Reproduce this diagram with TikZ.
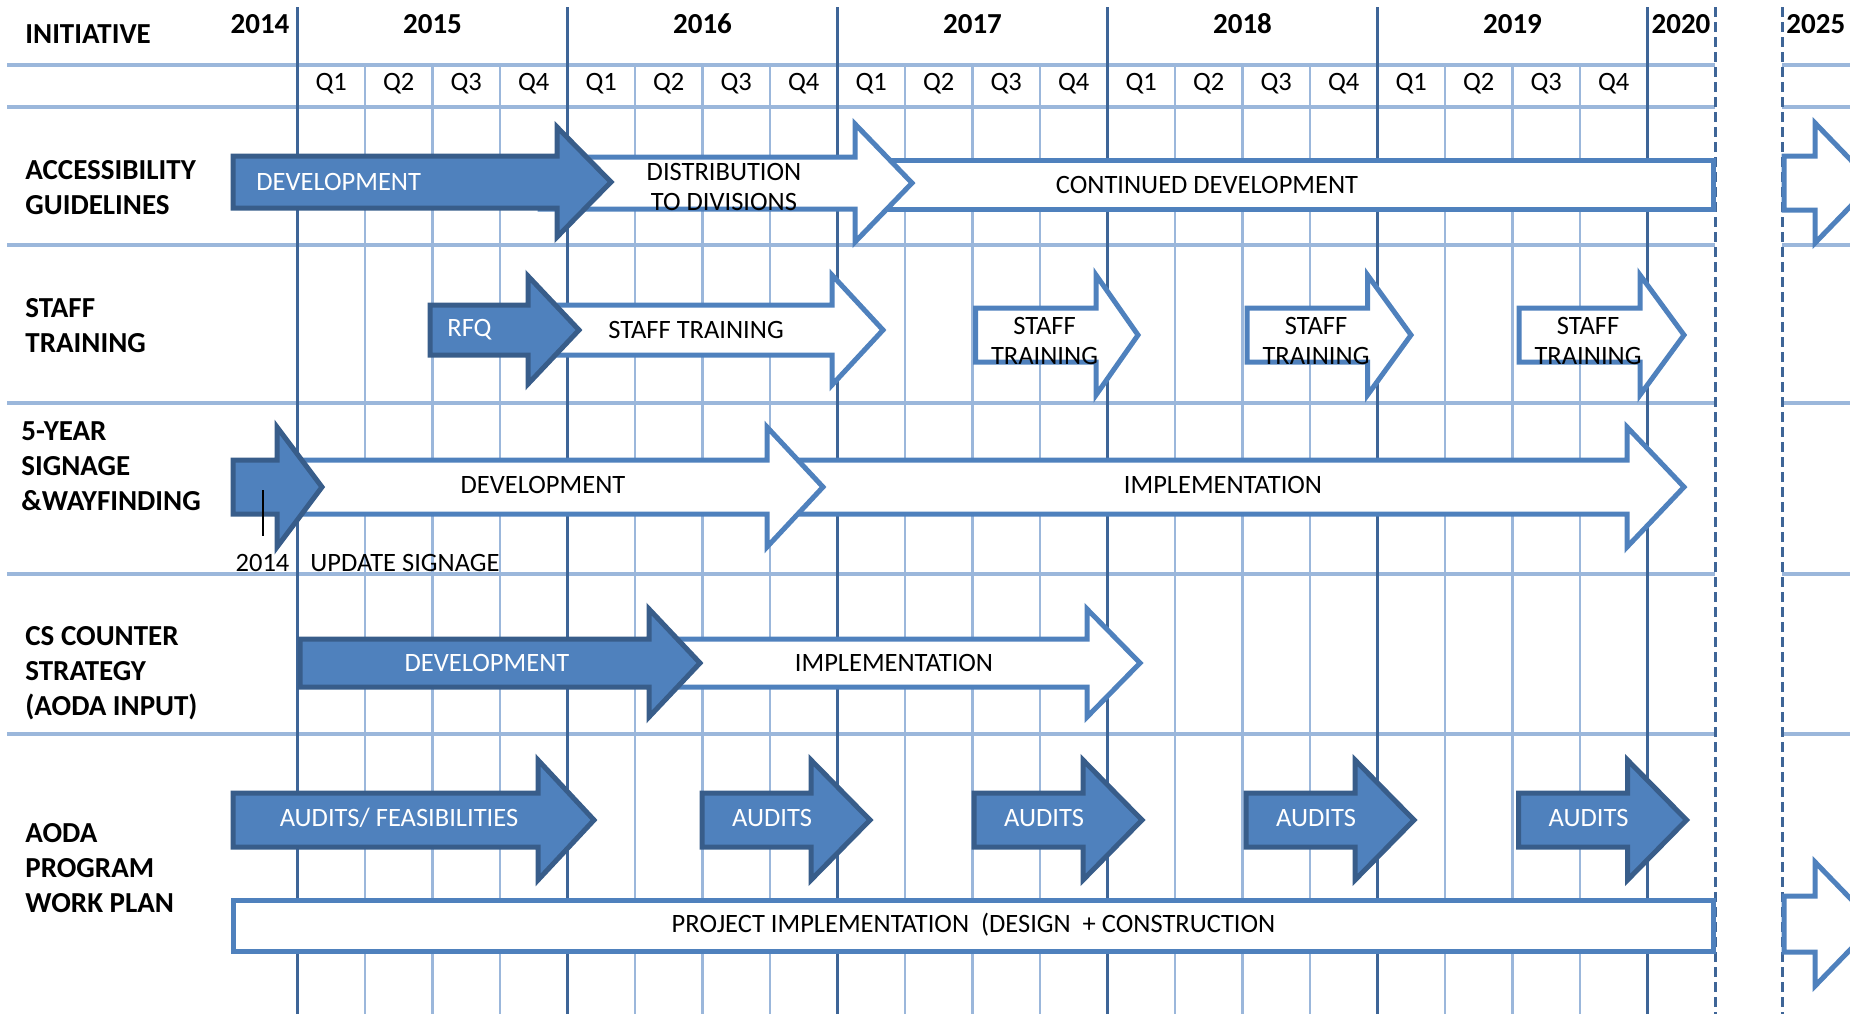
\documentclass[tikz,border=0pt]{standalone}
\usepackage{fontspec}
\setmainfont{Carlito}
\definecolor{barblue}{HTML}{4F81BD}
\definecolor{bardark}{HTML}{385D8A}
\definecolor{gridlight}{HTML}{9BB7DB}
\definecolor{griddark}{HTML}{3E6597}
\tikzset{
	darkarrow/.style={fill=barblue,draw=bardark,line width=2.5pt},
	whitearrow/.style={fill=white,draw=barblue,line width=2.5pt},
	lbl/.style={font=\fontsize{14.5}{17.5}\selectfont\bfseries,align=left,anchor=west,inner sep=0pt},
	txt/.style={font=\fontsize{13.25}{15}\selectfont,align=center,inner sep=0pt},
	wtxt/.style={txt,text=white},
}
% style, left, head base, tip, centre y, half body, half head
\newcommand{\blockarrow}[7]{\draw[#1] (#2,#5-#6)--(#3,#5-#6)--(#3,#5-#7)--(#4,#5)--(#3,#5+#7)--(#3,#5+#6)--(#2,#5+#6)--cycle;}
\begin{document}
\begin{tikzpicture}[x=0.5pt,y=-0.5pt,line cap=butt]
\useasboundingbox (0,0) rectangle (1850,1014);
% grid
\foreach \h in {65,106.5,245,402.5,574,734}
	\draw[gridlight,line width=2pt] (7,\h)--(1715,\h) (1782,\h)--(1850,\h);
\foreach \yr in {0,...,4}
	\foreach \q in {1,2,3}
		\draw[gridlight,line width=1.2pt] (297.5+270*\yr+67.5*\q,65)--(297.5+270*\yr+67.5*\q,1014);
\foreach \yr in {0,...,5}
	\draw[griddark,line width=1.6pt] (297.5+270*\yr,7)--(297.5+270*\yr,1014);
\draw[griddark,line width=1.5pt,dash pattern=on 5pt off 2.5pt] (1715,7)--(1715,1014) (1782,7)--(1782,1014);
% header
\node[lbl] (init) at (25,34) {INITIATIVE};
\node[lbl,anchor=center] (y2014) at (260,24) {2014};
\foreach \yr/\lab in {0/2015,1/2016,2/2017,3/2018,4/2019}
	\node[lbl,anchor=center] (y\lab) at (432.5+270*\yr,24) {\lab};
\node[lbl,anchor=center] (y2020) at (1681,24) {2020};
\node[lbl] (y2025) at (1786,24) {2025};
\foreach \yr in {0,...,4}
	\foreach \q in {1,...,4}
		\node[txt] (q\yr\q) at (297.5+270*\yr+67.5*\q-33.75,84) {Q\q};
% row labels
\node[lbl] (access) at (25,187.5) {ACCESSIBILITY\\GUIDELINES};
\node[lbl] (staff) at (25,325.5) {STAFF\\TRAINING};
\node[lbl] (signage) at (21,466) {5-YEAR\\SIGNAGE\\\&WAYFINDING};
\node[lbl] (counter) at (25,673) {CS COUNTER\\STRATEGY\\(AODA INPUT)};
\node[lbl] (aoda) at (25,868) {AODA\\PROGRAM\\WORK PLAN};
% accessibility guidelines
\blockarrow{whitearrow}{1784}{1815}{1873}{183}{27}{60}
\draw[whitearrow] (860,160) rectangle (1713,209);
\blockarrow{whitearrow}{540}{855}{912}{183}{26}{59}
\blockarrow{darkarrow}{233}{557}{611}{182}{26}{55}
\node[wtxt,anchor=west] (accdev) at (256,182) {DEVELOPMENT};
\node[txt] (accdist) at (724,187) {DISTRIBUTION\\TO DIVISIONS};
\node[txt] (acccont) at (1207,185) {CONTINUED DEVELOPMENT};
% staff training
\blockarrow{whitearrow}{540}{832}{883}{330}{25}{55}
\blockarrow{darkarrow}{430}{528}{579}{330}{25}{54}
\node[wtxt,anchor=west] (rfq) at (447,330) {RFQ};
\node[txt] (stafftr) at (696,330) {STAFF TRAINING};
\foreach \l/\b/\t [count=\k] in {975.5/1096/1138,1247/1367.5/1411,1519/1640/1684}{
	\blockarrow{whitearrow}{\l}{\b}{\t}{335}{27}{60}
	\node[txt] (stafftr\k) at (\l+69,341) {STAFF\\TRAINING};
}
% signage and wayfinding
\blockarrow{whitearrow}{800}{1627}{1684}{487}{27}{60}
\blockarrow{whitearrow}{300}{767}{823}{487}{27}{60}
\blockarrow{darkarrow}{233}{277}{322}{487}{27}{60}
\draw[black,line width=0.8pt] (263,490)--(263,536);
\node[txt] (signdev) at (543,485) {DEVELOPMENT};
\node[txt] (signimp) at (1223,485) {IMPLEMENTATION};
\node[txt] (sign2014) at (262.5,563) {2014};
\node[txt] (signupd) at (405,563) {UPDATE SIGNAGE};
% cs counter strategy
\blockarrow{whitearrow}{680}{1087}{1140}{663}{24}{54}
\blockarrow{darkarrow}{300}{649}{700}{663}{24}{54}
\node[wtxt] (csdev) at (487,663) {DEVELOPMENT};
\node[txt] (csimp) at (894,663) {IMPLEMENTATION};
% aoda program work plan
\blockarrow{darkarrow}{233}{538}{594}{820}{27}{60}
\node[wtxt] (feas) at (399,818) {AUDITS/ FEASIBILITIES};
\foreach \l [count=\k] in {702,974,1246,1518.5}{
	\blockarrow{darkarrow}{\l}{\l+109}{\l+168}{820}{27}{60}
	\node[wtxt] (audit\k) at (\l+70,818) {AUDITS};
}
\draw[whitearrow] (233,900) rectangle (1713,951);
\blockarrow{whitearrow}{1784}{1815}{1875}{924}{28}{62}
\node[txt] (projimp) at (973.5,925) {PROJECT IMPLEMENTATION\ \ (DESIGN\ \ + CONSTRUCTION};
\end{tikzpicture}
\end{document}
